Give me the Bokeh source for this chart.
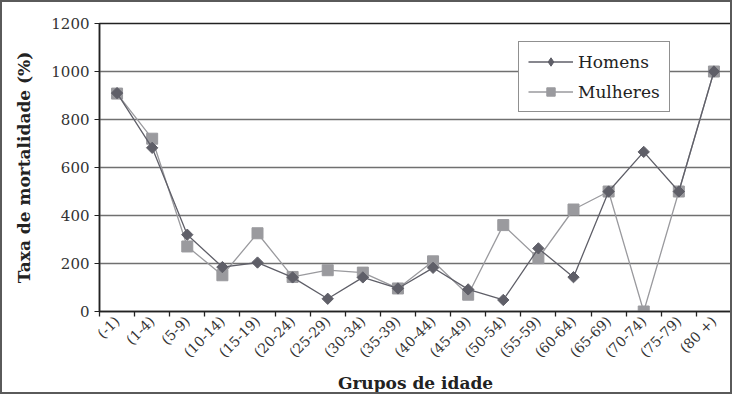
import numpy as np
from bokeh.plotting import figure
from bokeh.models import FixedTicker, Range1d, Legend, LegendItem
from bokeh.embed import file_html
from bokeh.resources import INLINE

grupos = ["(-1)", "(1-4)", "(5-9)", "(10-14)", "(15-19)", "(20-24)", "(25-29)",
          "(30-34)", "(35-39)", "(40-44)", "(45-49)", "(50-54)", "(55-59)",
          "(60-64)", "(65-69)", "(70-74)", "(75-79)", "(80 +)"]
homens = [910, 682, 320, 185, 204, 142, 53, 142, 96, 182, 92, 48, 263, 143, 500, 665, 500, 1000]
mulheres = [908, 720, 271, 151, 326, 144, 172, 162, 96, 209, 70, 360, 222, 425, 500, 0, 500, 1000]
y_ticks = [0, 200, 400, 600, 800, 1000, 1200]

FONT = "DejaVu Serif"
C_H = "#5f5f68"
C_M = "#9a9a9e"

n = len(grupos)
x = [i + 0.5 for i in range(n)]

p = figure(width=732, height=394, output_backend="svg", toolbar_location=None,
           x_range=Range1d(0, n), y_range=Range1d(0, 1200),
           min_border_left=97, min_border_right=3, min_border_top=21, min_border_bottom=78)
p.styles = {"border": "2px solid #5a5a5a"}
p.background_fill_color = "white"
p.border_fill_color = "white"
p.outline_line_color = "#222222"
p.outline_line_width = 1.5

# x axis
p.xaxis.ticker = FixedTicker(ticks=x, minor_ticks=list(range(n + 1)))
p.xaxis.major_label_overrides = {xx: g for xx, g in zip(x, grupos)}
p.xaxis.major_label_orientation = np.pi / 4
p.xaxis.major_tick_line_color = None
p.xaxis.major_tick_out = 5
p.xaxis.minor_tick_out = 5
p.xaxis.minor_tick_in = 0
p.xaxis.minor_tick_line_color = "#222222"
p.xaxis.minor_tick_line_width = 1.3
p.xaxis.axis_line_color = "#222222"
p.xaxis.axis_line_width = 1.5
p.xaxis.major_label_text_font = FONT
p.xaxis.major_label_text_font_size = "14px"
p.xaxis.major_label_text_color = "#333333"
p.xaxis.major_label_standoff = 2
p.xaxis.axis_label = "Grupos de idade"
p.xaxis.axis_label_text_font = FONT
p.xaxis.axis_label_text_font_style = "bold"
p.xaxis.axis_label_text_font_size = "17px"
p.xaxis.axis_label_text_color = "#222222"
p.xaxis.axis_label_standoff = 4

# y axis
p.yaxis.ticker = FixedTicker(ticks=y_ticks)
p.yaxis.minor_tick_line_color = None
p.yaxis.major_tick_out = 5
p.yaxis.major_tick_in = 0
p.yaxis.major_tick_line_color = "#222222"
p.yaxis.axis_line_color = "#222222"
p.yaxis.axis_line_width = 1.5
p.yaxis.major_label_text_font = FONT
p.yaxis.major_label_text_font_size = "15px"
p.yaxis.major_label_text_color = "#333333"
p.yaxis.major_label_standoff = 5
p.yaxis.axis_label = "Taxa de mortalidade (%)"
p.yaxis.axis_label_text_font = FONT
p.yaxis.axis_label_text_font_style = "bold"
p.yaxis.axis_label_text_font_size = "17px"
p.yaxis.axis_label_text_color = "#222222"
p.yaxis.axis_label_standoff = 14

p.xgrid.grid_line_color = None
p.ygrid.grid_line_color = "#707070"
p.ygrid.grid_line_width = 1.5

lm = p.line(x, mulheres, line_color=C_M, line_width=1.3)
sm = p.scatter(x, mulheres, marker="square", size=11, fill_color=C_M, line_color=C_M)
lh = p.line(x, homens, line_color=C_H, line_width=1.3)
sh = p.scatter(x, homens, marker="square", angle=np.pi / 4, size=8, fill_color=C_H, line_color=C_H)
# legend-only diamond glyph (off-screen point)
dh = p.scatter([np.nan], [np.nan], marker="diamond", size=14, fill_color=C_H, line_color=C_H)

legend = Legend(items=[LegendItem(label="Homens", renderers=[lh, dh]),
                       LegendItem(label="Mulheres", renderers=[lm, sm])],
                location=(419, 199))
legend.label_text_font = FONT
legend.label_text_font_size = "17px"
legend.label_text_color = "#222222"
legend.glyph_width = 45
legend.glyph_height = 21
legend.label_height = 21
legend.spacing = 9
legend.padding = 9
legend.margin = 0
legend.border_line_color = "#222222"
legend.border_line_width = 1.2
legend.background_fill_color = "white"
legend.background_fill_alpha = 1
p.add_layout(legend, "center")

open("out.html", "w").write(file_html(p, INLINE))
